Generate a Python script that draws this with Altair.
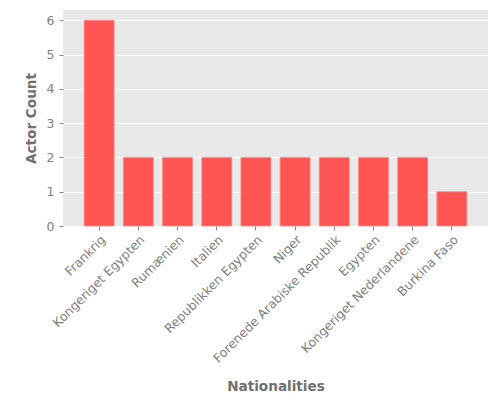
import altair as alt
import pandas as pd

nationalities = ["Frankrig", "Kongeriget Egypten", "Rumænien", "Italien",
                 "Republikken Egypten", "Niger", "Forenede Arabiske Republik",
                 "Egypten", "Kongeriget Nederlandene", "Burkina Faso"]
counts = [6, 2, 2, 2, 2, 2, 2, 2, 2, 1]

df = pd.DataFrame({"Nationality": nationalities, "Count": counts})

chart = alt.Chart(df).mark_bar(
    color="#FF5555", stroke="#FF8A8A", strokeWidth=0.8
).encode(
    x=alt.X("Nationality:N", sort=nationalities, title="Nationalities",
            scale=alt.Scale(paddingInner=0.235, paddingOuter=0.54),
            axis=alt.Axis(labelAngle=-45, labelAlign="right", labelBaseline="top",
                          labelFontSize=12.5, labelColor="#808080", labelFont="DejaVu Sans",
                          tickColor="#888888", tickSize=4, labelPadding=3,
                          titleFontSize=13.6, titleColor="#707070", titlePadding=15,
                          titleFont="DejaVu Sans", titleFontWeight="bold",
                          domain=False, grid=False, labelLimit=300)),
    y=alt.Y("Count:Q", title="Actor Count",
            scale=alt.Scale(domain=[0, 6.3], nice=False),
            axis=alt.Axis(values=[0, 1, 2, 3, 4, 5, 6], format="d",
                          labelFontSize=12.5, labelColor="#808080", labelFont="DejaVu Sans",
                          tickColor="#888888", tickSize=4, labelPadding=5,
                          titleFontSize=13.6, titleColor="#707070", titlePadding=8,
                          titleFont="DejaVu Sans", titleFontWeight="bold",
                          domain=False, gridColor="white", gridWidth=1)),
).properties(
    width=425, height=216,
    autosize=alt.AutoSizeParams(type="none"),
    padding={"left": 55, "top": 2, "right": 4, "bottom": 172},
).configure(
    font="DejaVu Sans",
).configure_view(
    fill="#E9E9E9", stroke=None
)

chart.save("out.html", embed_options={"renderer": "svg", "actions": False})
